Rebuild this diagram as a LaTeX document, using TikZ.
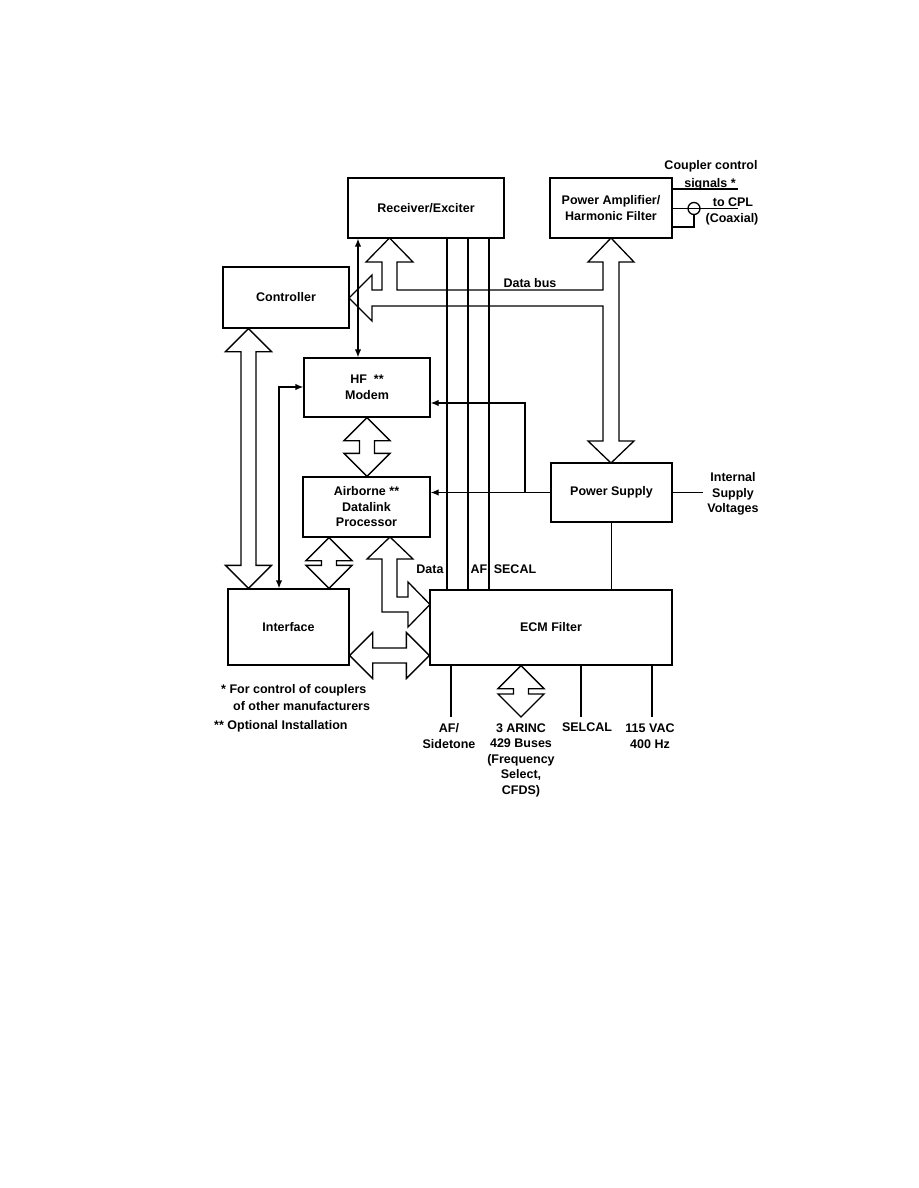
\documentclass[tikz,border=0pt]{standalone}
\usepackage{fontspec}
\setmainfont{Liberation Sans}
\usetikzlibrary{arrows.meta,calc}
\newcommand\vdbl[2]{\draw[blk] let \p1=(#1), \p2=(#2) in (\x1,\y1) -- (\x1+23pt,\y1-23pt) -- (\x1+7.5pt,\y1-23pt) -- (\x1+7.5pt,\y2+23pt) -- (\x1+23pt,\y2+23pt) -- (\x1,\y2) -- (\x1-23pt,\y2+23pt) -- (\x1-7.5pt,\y2+23pt) -- (\x1-7.5pt,\y1-23pt) -- (\x1-23pt,\y1-23pt) -- cycle;}
\newcommand\hdbl[2]{\draw[blk] let \p1=(#1), \p2=(#2) in (\x1,\y1) -- (\x1+23pt,\y1+23pt) -- (\x1+23pt,\y1+7.5pt) -- (\x2-23pt,\y1+7.5pt) -- (\x2-23pt,\y1+23pt) -- (\x2,\y1) -- (\x2-23pt,\y1-23pt) -- (\x2-23pt,\y1-7.5pt) -- (\x1+23pt,\y1-7.5pt) -- (\x1+23pt,\y1-23pt) -- cycle;}
\begin{document}
\begin{tikzpicture}[x=1pt,y=-1pt,
  every node/.style={font=\bfseries\fontsize{12.5}{15.5}\selectfont, inner sep=0pt},
  box/.style={draw, line width=1.3pt, align=center},
  ln/.style={line width=1.3pt},
  blk/.style={draw, fill=white, line width=1.3pt, line join=miter},
  tarr/.style={line width=1.3pt, -{Latex[length=8pt,width=6.5pt]}},
  tdbl/.style={line width=1.3pt, {Latex[length=8pt,width=6.5pt]}-{Latex[length=8pt,width=6.5pt]}},
  lbl/.style={align=center}]
\useasboundingbox (0,0) rectangle (918,1188);
\fill[white] (0,0) rectangle (918,1188);

% boxes
\node[box, minimum width=156, minimum height=60] (rx) at (426,208) {Receiver/Exciter};
\node[box, minimum width=122, minimum height=60] (pa) at (611,208) {Power Amplifier/\\Harmonic Filter};
\node[box, minimum width=126, minimum height=61] (ctrl) at (286,297.5) {Controller};
\node[box, minimum width=126, minimum height=59] (hf) at (367,387.5) {HF\ \ **\\Modem};
\node[box, minimum width=127, minimum height=60] (adp) at (366.5,507) {Airborne **\\Datalink\\Processor};
\node[box, minimum width=121, minimum height=59] (ps) at (611.5,492.5) {Power Supply};
\node[box, minimum width=121, minimum height=76] (ifc) at (288.5,627) {Interface};
\node[box, minimum width=242, minimum height=75] (ecm) at (551,627.5) {ECM Filter};

% data bus compound block arrow
\draw[blk] (382,290) -- (372,290) -- (372,275) -- (349,298) -- (372,321) -- (372,306)
  -- (603,306) -- (603,441) -- (588,441) -- (611,463) -- (634,441) -- (619,441)
  -- (619,262) -- (634,262) -- (611,238) -- (588,262) -- (603,262) -- (603,290)
  -- (397,290) -- (397,262) -- (413,262) -- (389.5,238) -- (366,262) -- (382,262) -- cycle;
\node[anchor=base] (dbus) at (530,287.5) {Data bus};

% data bent arrow ADP <-> ECM
\draw[blk] (390,537) -- (413,559) -- (397,559) -- (397,597) -- (408,597) -- (408,582)
  -- (430,604.5) -- (408,627) -- (408,612) -- (382,612) -- (382,559) -- (367,559) -- cycle;

% vertical / horizontal double block arrows
\vdbl{248.5,0 |- ctrl.south}{248.5,0 |- ifc.north}
\vdbl{hf.south}{hf.south |- adp.north}
\vdbl{329,0 |- adp.south}{329,0 |- ifc.north}
\vdbl{521,0 |- ecm.south}{521,717}
\hdbl{ifc.east |- 0,655.5}{ecm.west |- 0,655.5}

% thin connections
\draw[tdbl] (358,0 |- rx.south) -- (358,0 |- hf.north);
\draw[tarr] (ps.west) -- (adp.east |- ps.west);
\draw[tarr] (525,0 |- ps.west) -- (525,403) -- (hf.east |- 0,403);
\draw[tdbl] (279,0 |- ifc.north) -- (279,387) -- (hf.west |- 0,387);
\foreach \xx in {447,468,489} \draw[ln] (\xx,0 |- rx.south) -- (\xx,0 |- ecm.north);
\draw[ln] (ps.south) -- (ps.south |- ecm.north);
\draw[ln] (ps.east) -- ++(30,0) coordinate (isv);
\node[lbl] (isvt) at (733,494) {Internal\\Supply\\Voltages};

\node[anchor=base] (tdata) at (430,573.5) {Data};
\node[anchor=base] (taf) at (479,573.5) {AF};
\node[anchor=base] (tsec) at (515,573.5) {SECAL};

% bottom lines and labels
\draw[ln] (451,0 |- ecm.south) -- (451,717);
\draw[ln] (581,0 |- ecm.south) -- (581,717);
\draw[ln] (652,0 |- ecm.south) -- (652,717);
\node[lbl] (afs) at (449,736) {AF/\\Sidetone};
\node[lbl] (arinc) at (521,760) {3 ARINC\\429 Buses\\(Frequency\\Select,\\CFDS)};
\node[anchor=base] (selc) at (587,731.5) {SELCAL};
\node[lbl] (vac) at (650,736) {115 VAC\\400 Hz};

% top right coupler lines
\draw[ln] (pa.east |- 0,189) -- (738,189);
\draw[ln] (pa.east |- 0,208.5) -- (738,208.5);
\node[circle, draw, line width=1.3pt, minimum size=12] (cx) at (694,208.5) {};
\draw[ln] (pa.east |- 0,227) -- (694,227) -- (cx.south);
\node[anchor=base] (cc) at (711,169.5) {Coupler control};
\node[anchor=base] (sig) at (710,187.5) {signals *};
\node[anchor=base] (cpl) at (733,206.5) {to CPL};
\node[anchor=base] (coax) at (732,222.5) {(Coaxial)};

% footnotes
\node[anchor=base west] (fn1) at (221,693.5) {* For control of couplers};
\node[anchor=base west] (fn2) at (233,710.5) {of other manufacturers};
\node[anchor=base west] (fn3) at (214,729.5) {** Optional Installation};
\end{tikzpicture}
\end{document}
